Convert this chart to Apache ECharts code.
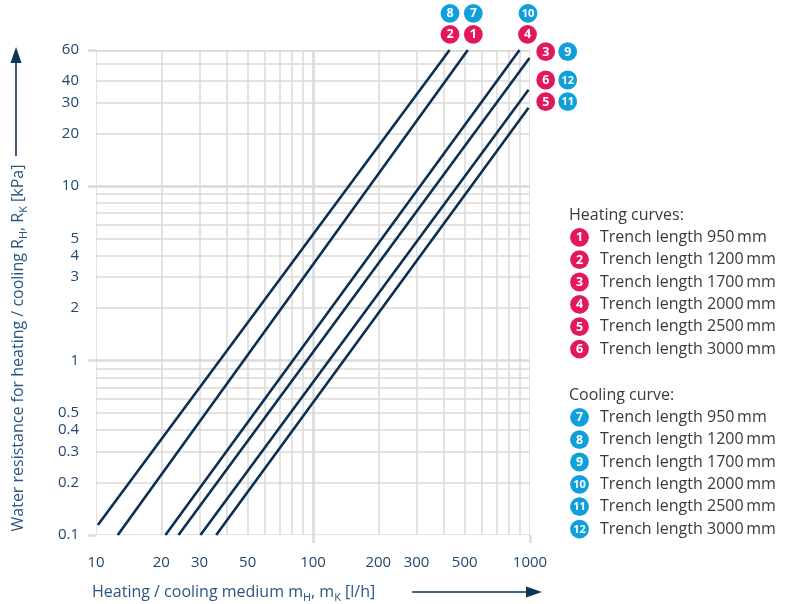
<!DOCTYPE html>
<html><head><meta charset="utf-8">
<script src="https://cdn.jsdelivr.net/npm/echarts@6/dist/echarts.min.js"></script>
<style>html,body{margin:0;padding:0;background:#fff}#c{width:788px;height:604px}</style>
</head><body><div id="c"></div>
<script>
// ---- data ----
const flowLabels = [10, 20, 30, 50, 100, 200, 300, 500, 1000];
const resLabels = [0.1, 0.2, 0.3, 0.4, 0.5, 1, 2, 3, 4, 5, 10, 20, 30, 40, 60];
const flowGrid = [10, 20, 30, 40, 50, 60, 70, 80, 90, 100, 200, 300, 400, 500, 600, 700, 800, 900, 1000];
const resGrid = [0.1, 0.2, 0.3, 0.4, 0.5, 0.6, 0.7, 0.8, 0.9, 1, 2, 3, 4, 5, 6, 7, 8, 9, 10, 20, 30, 40, 50, 60];
const flowMajor = [100, 1000];
const resMajor = [0.1, 1, 10, 60];
const curveFlowStart = [10.2, 12.6, 20.9, 24.0, 30.3, 35.8];
const curveResStart = [0.114, 0.1, 0.1, 0.1, 0.1, 0.1];
const curveFlowEnd = [426, 517, 895, 995, 985, 985];
const curveResEnd = [60, 60, 60, 54, 35.5, 28];
const heatingNumbers = ['1', '2', '3', '4', '5', '6'];
const coolingNumbers = ['7', '8', '9', '10', '11', '12'];
const trenchLabels = ['Trench length 950\u2009mm', 'Trench length 1200\u2009mm', 'Trench length 1700\u2009mm',
  'Trench length 2000\u2009mm', 'Trench length 2500\u2009mm', 'Trench length 3000\u2009mm'];

// ---- styles ----
const FONT = 'Open Sans';
const PINK = '#e3175b';
const BLUE = '#0f9fdc';
const NAVY = '#0c2e50';
const GRID = '#dadada';
const AXTXT = '#22476e';
const XMIN = 10, XMAX = 1000, YMIN = 0.1, YMAX = 60;

const gridLines = [];
flowGrid.forEach(v => gridLines.push({
  coords: [[v, YMIN], [v, YMAX]],
  lineStyle: { width: flowMajor.includes(v) ? 2.5 : 1.5 }
}));
resGrid.forEach(v => gridLines.push({
  coords: [[XMIN, v], [XMAX, v]],
  lineStyle: { width: resMajor.includes(v) ? 2.5 : 1.5 }
}));

const curveSeries = curveFlowStart.map((x0, i) => ({
  type: 'line', showSymbol: false, symbol: 'none', silent: true, z: 5,
  data: [[x0, curveResStart[i]], [curveFlowEnd[i], curveResEnd[i]]],
  lineStyle: { color: NAVY, width: 2.6 },
  clip: false
}));

function badge(x, y, n, color) {
  return {
    type: 'group', x: x, y: y, children: [
      { type: 'circle', shape: { cx: 0, cy: 0, r: 9.4 }, style: { fill: color } },
      { type: 'text', x: 0, y: 0.5, style: { text: n, fill: '#fff', font: `bold ${n.length > 1 ? 11 : 12.5}px "${FONT}"`, align: 'center', verticalAlign: 'middle' } }
    ]
  };
}

const graphics = [];
// annotation badges near line ends
[['8', 450, 13.3, BLUE], ['7', 473.3, 13.3, BLUE], ['10', 528, 13.3, BLUE],
 ['2', 450, 34.3, PINK], ['1', 473.3, 34.3, PINK], ['4', 527.5, 34.3, PINK],
 ['3', 545.7, 51.7, PINK], ['9', 567.7, 51.7, BLUE],
 ['6', 545.7, 80, PINK], ['12', 567.7, 80, BLUE],
 ['5', 545.7, 101.7, PINK], ['11', 567.7, 101.7, BLUE]].forEach(b => graphics.push(badge(b[1], b[2], b[0], b[3])));

// legend
const LEG_TXT = '#3a3a3a';
graphics.push({ type: 'text', x: 569, y: 215, style: { text: 'Heating curves:', fill: LEG_TXT, font: `16px "${FONT}"`, verticalAlign: 'middle' } });
graphics.push({ type: 'text', x: 569, y: 395, style: { text: 'Cooling curve:', fill: LEG_TXT, font: `16px "${FONT}"`, verticalAlign: 'middle' } });
trenchLabels.forEach((t, i) => {
  const yh = 237.3 + i * 22.35;
  const yc = 417.3 + i * 22.35;
  graphics.push(badge(579.5, yh, heatingNumbers[i], PINK));
  graphics.push({ type: 'text', x: 600, y: yh, style: { text: t, fill: LEG_TXT, font: `16px "${FONT}"`, verticalAlign: 'middle' } });
  graphics.push(badge(579.5, yc, coolingNumbers[i], BLUE));
  graphics.push({ type: 'text', x: 600, y: yc, style: { text: t, fill: LEG_TXT, font: `16px "${FONT}"`, verticalAlign: 'middle' } });
});

// axis titles
const TITLE = '#2a5683';
const richT = {
  n: { fontSize: 16, fontFamily: FONT, color: TITLE, fill: TITLE, lineHeight: 22 },
  s: { fontSize: 11, fontFamily: FONT, color: TITLE, fill: TITLE, verticalAlign: 'bottom', lineHeight: 14 }
};
graphics.push({ type: 'text', x: 92, y: 592, style: {
  text: '{n|Heating / cooling medium m}{s|H}{n|, m}{s|K}{n| [l/h]}', fill: TITLE, rich: richT, verticalAlign: 'middle', align: 'left' } });
graphics.push({ type: 'text', x: 18, y: 348, rotation: Math.PI / 2, style: {
  text: '{n|Water resistance for heating / cooling R}{s|H}{n|, R}{s|K}{n| [kPa]}', fill: TITLE, rich: richT, verticalAlign: 'middle', align: 'center' } });
// arrows
const ARW = '#0d3459';
graphics.push({ type: 'line', shape: { x1: 16, y1: 156, x2: 16, y2: 58 }, style: { stroke: ARW, lineWidth: 1.6 } });
graphics.push({ type: 'polygon', shape: { points: [[16, 47], [10.5, 63], [21.5, 63]] }, style: { fill: ARW } });
graphics.push({ type: 'line', shape: { x1: 412, y1: 592, x2: 530, y2: 592 }, style: { stroke: ARW, lineWidth: 1.6 } });
graphics.push({ type: 'polygon', shape: { points: [[542, 592], [526, 586.5], [526, 597.5]] }, style: { fill: ARW } });

const chart = echarts.init(document.getElementById('c'), null, { renderer: 'canvas' });
chart.setOption({
  animation: false,
  backgroundColor: '#fff',
  grid: { left: 96, right: 258, top: 50, bottom: 69, containLabel: false },
  xAxis: {
    type: 'log', logBase: 10, min: XMIN, max: XMAX,
    axisLine: { show: false },
    splitLine: { show: false },
    axisTick: { show: true, customValues: flowMajor, length: 8, lineStyle: { color: GRID, width: 2.5 } },
    axisLabel: { customValues: flowLabels, color: AXTXT, fontFamily: FONT, fontSize: 15, margin: 20, formatter: v => String(v) }
  },
  yAxis: {
    type: 'log', logBase: 10, min: YMIN, max: YMAX,
    axisLine: { show: false },
    splitLine: { show: false },
    axisTick: { show: true, customValues: resMajor, length: 8, lineStyle: { color: GRID, width: 2.5 } },
    axisLabel: { customValues: resLabels, color: AXTXT, fontFamily: FONT, fontSize: 15, margin: 17, formatter: v => String(v) }
  },
  graphic: graphics,
  series: [
    { type: 'lines', coordinateSystem: 'cartesian2d', silent: true, z: 1,
      lineStyle: { color: GRID, opacity: 1 }, data: gridLines },
    ...curveSeries
  ]
});
</script>
</body></html>
